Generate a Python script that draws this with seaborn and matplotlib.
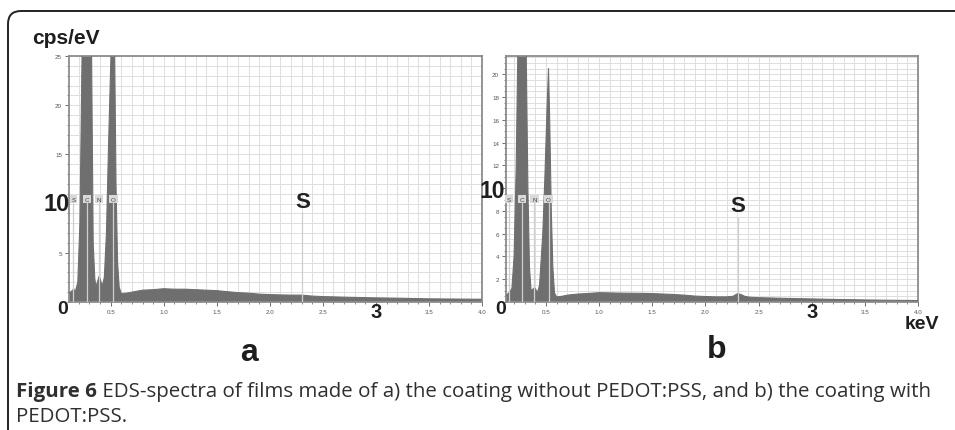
import numpy as np
import pandas as pd
import matplotlib
matplotlib.use("Agg")
import matplotlib.pyplot as plt
from matplotlib.path import Path
from matplotlib.patches import PathPatch
from matplotlib.ticker import MultipleLocator
import matplotlib.transforms as mtransforms
import seaborn as sns

# ---------------- data ----------------
energy_a = [0.11, 0.13, 0.145, 0.15, 0.155, 0.17, 0.19, 0.21, 0.23, 0.25, 0.277, 0.30, 0.32,
            0.335, 0.35, 0.36, 0.375, 0.39, 0.405, 0.42, 0.44, 0.46, 0.48, 0.50, 0.515,
            0.525, 0.535, 0.55, 0.565, 0.58, 0.60, 0.65, 0.70, 0.75, 0.80, 0.90, 1.0,
            1.1, 1.2, 1.3, 1.4, 1.5, 1.6, 1.7, 1.8, 1.9, 2.0, 2.1, 2.2, 2.3, 2.4, 2.5,
            2.75, 3.0, 3.25, 3.5, 3.75, 4.0]
counts_a = [0.9, 1.1, 1.2, 1.4, 1.2, 1.2, 2.0, 8.0, 25.0, 60.0, 80.0, 60.0, 25.0,
            6.0, 2.4, 1.6, 2.0, 2.6, 2.2, 1.6, 2.5, 7.0, 16.0, 24.0, 30.0,
            32.0, 28.0, 12.0, 4.0, 1.5, 0.85, 0.9, 1.0, 1.1, 1.2, 1.25, 1.35,
            1.3, 1.3, 1.25, 1.2, 1.15, 1.05, 0.95, 0.9, 0.8, 0.75, 0.72, 0.7, 0.7, 0.6, 0.55,
            0.48, 0.42, 0.38, 0.32, 0.30, 0.28]

energy_b = [0.12, 0.14, 0.16, 0.18, 0.20, 0.22, 0.24, 0.277, 0.31, 0.33, 0.345, 0.36,
            0.375, 0.39, 0.405, 0.42, 0.44, 0.47, 0.49, 0.51, 0.524, 0.535, 0.55, 0.565,
            0.58, 0.60, 0.65, 0.70, 0.80, 0.90, 1.0, 1.1, 1.2, 1.3, 1.4, 1.5, 1.6, 1.7,
            1.8, 1.9, 2.0, 2.1, 2.2, 2.26, 2.30, 2.33, 2.37, 2.42, 2.5, 2.75, 3.0, 3.25,
            3.5, 3.75, 4.0]
counts_b = [0.5, 0.7, 0.9, 1.2, 4.0, 12.0, 25.0, 40.0, 25.0, 10.0, 3.0, 1.0,
            1.1, 1.25, 1.1, 0.8, 1.5, 6.0, 11.0, 17.0, 20.5, 16.0, 8.0, 3.0,
            0.8, 0.45, 0.5, 0.6, 0.7, 0.75, 0.82, 0.8, 0.78, 0.77, 0.76, 0.74, 0.7, 0.66,
            0.6, 0.52, 0.48, 0.45, 0.45, 0.5, 0.72, 0.68, 0.5, 0.42, 0.38, 0.32, 0.27, 0.22,
            0.18, 0.15, 0.13]

element_names = ["S", "C", "N", "O"]
element_energies = [0.149, 0.277, 0.392, 0.525]
s_line_energy = 2.307

x_ticks = [0.5, 1.0, 1.5, 2.0, 2.5, 3.0, 3.5, 4.0]
x_ticklabels = ["0.5", "1.0", "1.5", "2.0", "2.5", "", "3.5", "4.0"]
ya_ticks = [5, 10, 15, 20, 25]
ya_ticklabels = ["5", "", "15", "20", "25"]
yb_ticks = [2, 4, 6, 8, 10, 12, 14, 16, 18, 20]
yb_ticklabels = ["2", "4", "6", "8", "", "12", "14", "16", "18", "20"]

caption_bold = "Figure 6"
caption_line1 = " EDS-spectra of films made of a) the coating without PEDOT:PSS, and b) the coating with"
caption_line2 = "PEDOT:PSS."

# ---------------- style ----------------
sns.set_theme(style="white")
plt.rcParams["font.family"] = ["Liberation Sans", "DejaVu Sans"]

W, H = 955, 431
fig = plt.figure(figsize=(W / 100, H / 100), dpi=100)


def fx(px):
    return px / W


def fy(py):
    return 1 - py / H


ax_a = fig.add_axes([fx(69), fy(303), fx(482) - fx(69), fy(57) - fy(303)])
ax_b = fig.add_axes([fx(506), fy(303), fx(918) - fx(506), fy(57) - fy(303)])

fill_col = "#6f6f6f"
grid_col = "#dedede"
spine_col = "#8c8c8c"


def draw_panel(ax, energy, counts, xmin, ymax, yticks, yticklabels, yminor,
               label_y, s_top, s_text_y):
    df = pd.DataFrame({"energy": energy, "counts": counts})
    ax.fill_between(df["energy"], 0, df["counts"], color=fill_col, lw=0, zorder=2)
    sns.lineplot(data=df, x="energy", y="counts", ax=ax, color=fill_col, lw=0.8,
                 zorder=3, estimator=None, sort=False)
    ax.set_xlim(xmin, 4.0)
    ax.set_ylim(0, ymax)
    ax.set_xlabel("")
    ax.set_ylabel("")
    ax.set_xticks(x_ticks)
    ax.set_xticklabels(x_ticklabels)
    ax.xaxis.set_minor_locator(MultipleLocator(0.1))
    ax.set_yticks(yticks)
    ax.set_yticklabels(yticklabels)
    ax.yaxis.set_minor_locator(MultipleLocator(yminor))
    ax.grid(True, which="both", color=grid_col, lw=0.7, zorder=0)
    ax.set_axisbelow(True)
    ax.tick_params(axis="both", which="major", labelsize=4.5, labelcolor="#555555",
                   color="#555555", length=3, width=0.6, direction="out", pad=2,
                   left=True, bottom=True)
    ax.tick_params(axis="both", which="minor", color="#555555", length=1.5,
                   width=0.5, direction="out", left=True, bottom=True)
    for sp in ax.spines.values():
        sp.set_color(spine_col)
        sp.set_linewidth(1.3)
    trans = mtransforms.blended_transform_factory(ax.transData, ax.transAxes)
    # element marker lines and boxes
    for name, e in zip(element_names, element_energies):
        ax.plot([e, e], [0, label_y - 0.015], transform=trans, color="#cfcfcf",
                lw=0.9, zorder=4)
        ax.text(e, label_y, name, transform=trans, ha="center", va="center",
                fontsize=4.5, color="#444444", zorder=6,
                bbox=dict(boxstyle="square,pad=0.3", fc="#d9d9d9", ec="none"))
    ax.plot([s_line_energy, s_line_energy], [0, s_top], transform=trans,
            color="#cfcfcf", lw=0.9, zorder=4)
    ax.text(s_line_energy, s_text_y, "S", transform=trans, ha="center",
            va="center", fontsize=16, fontweight="bold", color="#222222", zorder=6)


draw_panel(ax_a, energy_a, counts_a, 0.107, 25, ya_ticks, ya_ticklabels, 1,
           (303 - 200) / 246, (303 - 213) / 246, (303 - 202) / 246)
draw_panel(ax_b, energy_b, counts_b, 0.124, 21.6, yb_ticks, yb_ticklabels, 0.5,
           (303 - 200) / 246, (303 - 219) / 246, (303 - 207) / 246)

big = dict(fontweight="bold", color="#1e1e1e", ha="center", va="center")
fig.text(fx(32), fy(38), "cps/eV", fontsize=15, fontweight="bold", color="#1e1e1e",
         ha="left", va="center")
fig.text(fx(57), fy(205), "10", fontsize=17, **big)
fig.text(fx(492), fy(192), "10", fontsize=16.5, **big)
fig.text(fx(63), fy(310), "0", fontsize=14, **big)
fig.text(fx(501), fy(310), "0", fontsize=14, **big)
for ax in (ax_a, ax_b):
    tr = mtransforms.blended_transform_factory(ax.transData, fig.transFigure)
    ax.text(3.0, fy(313), "3", transform=tr, fontsize=14.5, **big)
fig.text(fx(922), fy(325), "keV", fontsize=14, **big)
fig.text(fx(249), fy(353), "a", fontsize=23, **big)
fig.text(fx(717), fy(350), "b", fontsize=23, **big)

# frame with rounded top-left corner
r = 13
verts = [(fx(8), fy(431)), (fx(8), fy(12 + r)), (fx(8), fy(12)), (fx(8 + r), fy(12)),
         (fx(955), fy(12))]
codes = [Path.MOVETO, Path.LINETO, Path.CURVE3, Path.CURVE3, Path.LINETO]
fig.add_artist(PathPatch(Path(verts, codes), fill=False, ec="#222222", lw=1.4,
                         transform=fig.transFigure))

# caption, fitted to the width it occupies in the reference
cap_col = "#2f2f2f"
cap_fam = ["Open Sans", "DejaVu Sans"]
target = 927 - 16
fs = 12.0
renderer = fig.canvas.get_renderer()
for _ in range(3):
    t1 = fig.text(fx(16), fy(398), caption_bold, fontsize=fs, fontweight="bold",
                  family=cap_fam, color=cap_col, va="baseline")
    w1 = t1.get_window_extent(renderer).width
    t2 = fig.text(fx(16 + w1), fy(398), caption_line1, fontsize=fs, family=cap_fam,
                  color=cap_col, va="baseline")
    w2 = t2.get_window_extent(renderer).width
    t1.remove()
    t2.remove()
    fs = fs * target / (w1 + w2)
t1 = fig.text(fx(16), fy(397), caption_bold, fontsize=fs, fontweight="bold",
              family=cap_fam, color=cap_col, va="baseline")
w1 = t1.get_window_extent(renderer).width
fig.text(fx(16 + w1), fy(397), caption_line1, fontsize=fs, family=cap_fam,
         color=cap_col, va="baseline")
fig.text(fx(16), fy(422), caption_line2, fontsize=fs, family=cap_fam,
         color=cap_col, va="baseline")

fig.savefig("out.png", dpi=100)
